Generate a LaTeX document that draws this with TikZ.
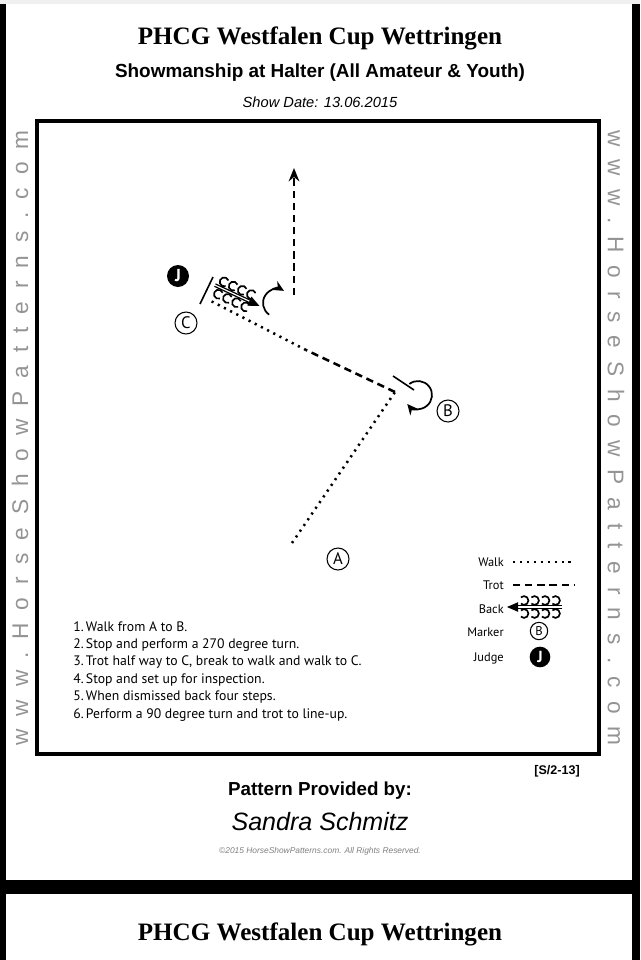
\documentclass[tikz,border=0pt]{standalone}
\usepackage{fontspec}
\setmainfont{Liberation Serif}
\newfontfamily\arialf{Liberation Sans}
\newfontfamily\myriadf{PT Sans}
\newfontfamily\wmfont[LetterSpace=57]{Liberation Sans}
\usetikzlibrary{arrows.meta}
\begin{document}
\begin{tikzpicture}[x=0.75pt,y=-0.75pt,
  walk/.style={line width=1.9pt, dash pattern=on 1.6pt off 3.6pt},
  trot/.style={line width=1.9pt, dash pattern=on 5.5pt off 3.6pt},
  stopbar/.style={line width=1.2pt},
  turnarrow/.style={line width=1.3pt, -{Stealth[length=8pt,width=7.5pt]}},
  markercirc/.style={circle, draw, line width=0.8pt, minimum size=16.5pt, inner sep=0pt, font=\myriadf\fontsize{12.5}{13}\selectfont},
  judgecirc/.style={circle, fill=black, minimum size=16.5pt, inner sep=0pt, text=white, font=\myriadf\bfseries\fontsize{13}{14}\selectfont},
  backglyph/.style={line width=1.25pt},
  legendtext/.style={anchor=base east, inner sep=0pt, font=\myriadf\fontsize{9.3}{11}\selectfont},
  steptext/.style={anchor=base west, inner sep=0pt, font=\myriadf\fontsize{10.3}{12}\selectfont},
  wmark/.style={text=black!42, inner sep=0pt, font=\wmfont\fontsize{17}{20}\selectfont},
  bigtitle/.style={anchor=base, inner sep=0pt, font=\bfseries\fontsize{18.8}{22}\selectfont}
]
\useasboundingbox (0,0) rectangle (640,960);
% page background
\fill[black] (0,0) rectangle (640,960);
\fill[white] (6,0) rectangle (632,880);
\fill[white] (6,894) rectangle (632,960);
\fill[black!6] (0,0) rectangle (640,4);
% arena frame
\draw[line width=3.4pt] (37,121) rectangle (599,754);
% headings
\node[bigtitle] (title) at (320,44) {PHCG Westfalen Cup Wettringen};
\node[anchor=base, inner sep=0pt, font=\arialf\bfseries\fontsize{14.2}{16}\selectfont] (sub) at (320,77) {Showmanship at Halter (All Amateur \& Youth)};
\node[anchor=base, inner sep=0pt, font=\arialf\itshape\fontsize{11}{13}\selectfont] (date) at (320,107) {Show Date: 13.06.2015};
% watermarks
\node[wmark, rotate=90] (wmL) at (20,438) {www.HorseShowPatterns.com};
\node[wmark, rotate=-90] (wmR) at (616,438) {www.HorseShowPatterns.com};
% footer
\node[anchor=base east, inner sep=0pt, font=\arialf\bfseries\fontsize{9.4}{11}\selectfont] (code) at (580,774) {[S/2-13]};
\node[anchor=base, inner sep=0pt, font=\arialf\bfseries\fontsize{14.1}{16}\selectfont] (prov) at (320,795) {Pattern Provided by:};
\node[anchor=base, inner sep=0pt, font=\arialf\itshape\fontsize{18.8}{22}\selectfont] (name) at (320,830) {Sandra Schmitz};
\node[anchor=base, inner sep=0pt, text=black!50, font=\arialf\itshape\fontsize{6.3}{7}\selectfont] (copy) at (320,853) {©2015 HorseShowPatterns.com. All Rights Reserved.};
\node[bigtitle] (title2) at (320,940) {PHCG Westfalen Cup Wettringen};
% markers and judge
\node[markercirc] (A) at (338,559) {A};
\node[markercirc] (B) at (448,411) {B};
\node[markercirc] (C) at (186,323) {C};
\node[judgecirc] (J) at (178,276) {J};
% pattern path
\coordinate (walkA) at (292,543);
\coordinate (turnB) at (395,392);
\coordinate (brk) at (306,350);
\coordinate (walkC) at (209,300);
\draw[walk] (walkA) -- (turnB);
\draw[trot] (turnB) -- (brk);
\draw[walk] (brk) -- (walkC);
% stop at B and 270 turn
\coordinate (sbB1) at (393,376);
\coordinate (sbB2) at (414,390);
\draw[stopbar] (sbB1) -- (sbB2);
\coordinate (tB) at (418,395);
\draw[turnarrow] ([shift={(232:14)}]tB) arc[start angle=232, end angle=500, radius=14];
% stop at C
\coordinate (sbC1) at (200,304);
\coordinate (sbC2) at (213,277);
\draw[stopbar] (sbC1) -- (sbC2);
% back four steps
\begin{scope}[shift={(234,294)}, rotate=-25]
  \foreach \xx in {-14,-4,6,16} {
    \draw[backglyph] (\xx,-6.8) ++(45:4.5) arc[start angle=45, end angle=315, radius=4.5];
    \draw[backglyph] (\xx,6.8) ++(45:4.5) arc[start angle=45, end angle=315, radius=4.5];
  }
  \draw[line width=0.9pt] (-21,-1.3) -- (19,-1.3);
  \draw[line width=0.9pt] (-21,1.3) -- (19,1.3);
  \fill (17,-5) -- (28,0) -- (17,5) -- cycle;
\end{scope}
% 90 degree turn and trot to line-up
\coordinate (tC) at (277,303);
\draw[turnarrow] ([shift={(124:14)}]tC) arc[start angle=124, end angle=300, radius=14];
\coordinate (up1) at (294,295);
\coordinate (up2) at (294,168);
\draw[trot, -{Stealth[length=10pt,width=8pt]}] (up1) -- (up2);
% legend
\node[legendtext] (lwalk) at (504,566) {Walk};
\node[legendtext] (ltrot) at (504,589) {Trot};
\node[legendtext] (lback) at (504,613) {Back};
\node[legendtext] (lmark) at (504,636) {Marker};
\node[legendtext] (ljudge) at (504,661) {Judge};
\coordinate (lw1) at (513,562);
\coordinate (lw2) at (572,562);
\draw[walk] (lw1) -- (lw2);
\coordinate (lt1) at (513,585);
\coordinate (lt2) at (574,585);
\draw[trot] (lt1) -- (lt2);
\begin{scope}[shift={(537,607)}]
  \foreach \xx in {-13,-2.5,8,18.5} {
    \draw[backglyph] (\xx,-6.5) ++(225:4.4) arc[start angle=225, end angle=495, radius=4.4];
    \draw[backglyph] (\xx,6.5) ++(225:4.4) arc[start angle=225, end angle=495, radius=4.4];
  }
  \draw[line width=0.9pt] (-21,-1.3) -- (25,-1.3);
  \draw[line width=0.9pt] (-21,1.3) -- (25,1.3);
  \fill (-19,-4.8) -- (-30,0) -- (-19,4.8) -- cycle;
\end{scope}
\node[markercirc, minimum size=13pt, font=\myriadf\fontsize{9.5}{10}\selectfont] (lB) at (539,631) {B};
\node[judgecirc, minimum size=15.5pt, font=\myriadf\bfseries\fontsize{12}{13}\selectfont] (lJ) at (540,657) {J};
% instructions
\foreach \t [count=\i] in {{1.\,Walk from A to B.},{2.\,Stop and perform a 270 degree turn.},{3.\,Trot half way to C, break to walk and walk to C.},{4.\,Stop and set up for inspection.},{5.\,When dismissed back four steps.},{6.\,Perform a 90 degree turn and trot to line-up.}}{
  \node[steptext] (step\i) at (73,{631+17.4*(\i-1)}) {\t};
}
\end{tikzpicture}
\end{document}
